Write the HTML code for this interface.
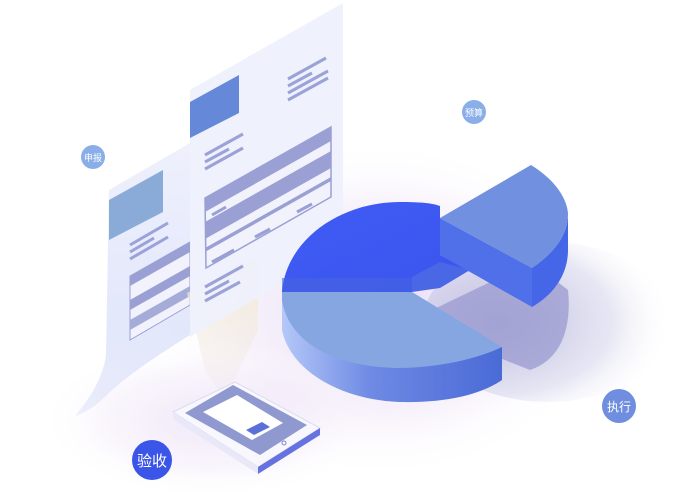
<!DOCTYPE html>
<html><head><meta charset="utf-8"><style>
html,body{margin:0;padding:0;background:#fff;}
svg{display:block}
text{font-family:"Liberation Sans","Noto Sans CJK SC",sans-serif;}
</style></head><body>
<svg width="684" height="492" viewBox="0 0 684 492" xmlns="http://www.w3.org/2000/svg">
<defs>
<radialGradient id="glow" cx="0.5" cy="0.5" r="0.5">
<stop offset="0" stop-color="#e6d8f4" stop-opacity="0.9"/>
<stop offset="0.6" stop-color="#f1e8f8" stop-opacity="0.6"/>
<stop offset="1" stop-color="#ffffff" stop-opacity="0"/>
</radialGradient>
<radialGradient id="shadow" cx="0.3" cy="0.5" r="0.7">
<stop offset="0" stop-color="#b0b0d8" stop-opacity="0.85"/>
<stop offset="0.65" stop-color="#d6d6ec" stop-opacity="0.6"/>
<stop offset="1" stop-color="#ffffff" stop-opacity="0"/>
</radialGradient>
<linearGradient id="paper" x1="0" y1="0" x2="0" y2="1">
<stop offset="0" stop-color="#eef0fc"/>
<stop offset="0.6" stop-color="#e4e8fb"/>
<stop offset="1" stop-color="#c9d2f5" stop-opacity="0.3"/>
</linearGradient>
<linearGradient id="pieside" x1="0" y1="0" x2="1" y2="0">
<stop offset="0" stop-color="#b4c8f8"/>
<stop offset="0.4" stop-color="#6f8ae4"/>
<stop offset="1" stop-color="#4a6ad6"/>
</linearGradient>
<linearGradient id="dark" x1="0" y1="0" x2="1" y2="1">
<stop offset="0" stop-color="#3f5cf5"/>
<stop offset="1" stop-color="#3a55ee"/>
</linearGradient>
<linearGradient id="beam" x1="0" y1="0" x2="0" y2="1">
<stop offset="0" stop-color="#f4eecc" stop-opacity="0.85"/>
<stop offset="1" stop-color="#f0e4e8" stop-opacity="0.2"/>
</linearGradient>
</defs>

<ellipse cx="380" cy="310" rx="230" ry="170" fill="url(#glow)"/>
<ellipse cx="210" cy="420" rx="170" ry="80" fill="url(#glow)" opacity="0.7"/>
<ellipse cx="548" cy="322" rx="125" ry="80" fill="url(#shadow)"/>
<path d="M432,310 L532,262 L568,290 C572,330 560,360 530,370 L470,346 Z" fill="#9a9ad0" opacity="0.75"/>

<path d="M109,190 L190,143 L190,335 C150,360 125,378 110,392 C98,404 88,412 75,416 C90,398 103,378 106,355 Z" fill="url(#paper)"/>
<polygon points="109,200 163,170 163,212 109,240" fill="#8aaad8"/>
<g stroke="#9aa2d8" stroke-width="3">
<line x1="130" y1="245" x2="168" y2="223"/>
<line x1="130" y1="252" x2="154" y2="238"/>
<line x1="130" y1="259" x2="168" y2="237"/>
</g>
<polygon points="130,276 190,242 190,305 130,340" fill="#f2f2fc" stroke="#9aa0d4" stroke-width="1"/>
<polygon points="130,276 190,242 190,252 130,286" fill="#9aa0d4"/>
<polygon points="130,300 190,266 190,276 130,310" fill="#9aa0d4"/>
<polygon points="130,320 190,286 190,296 130,330" fill="#a6acd8"/>

<polygon points="187,293 258,257 258,330 225,400 205,370" fill="url(#beam)"/>

<polygon points="190,90 343,3 343,248 190,337" fill="#eef0fc" opacity="0.95"/>
<polygon points="190,102 239,75 239,113 190,138" fill="#6688d8"/>
<g stroke="#9aa2d8" stroke-width="3">
<line x1="288" y1="79" x2="326" y2="58"/>
<line x1="288" y1="86" x2="312" y2="73"/>
<line x1="288" y1="93" x2="328" y2="71"/>
<line x1="288" y1="100" x2="328" y2="78"/>
<line x1="205" y1="155" x2="243" y2="134"/>
<line x1="205" y1="162" x2="229" y2="149"/>
<line x1="205" y1="169" x2="243" y2="148"/>
<line x1="205" y1="287" x2="243" y2="266"/>
<line x1="205" y1="294" x2="229" y2="281"/>
<line x1="205" y1="301" x2="240" y2="282"/>
</g>
<polygon points="205,198 331,127 331,197 206,268" fill="#f2f2fc" stroke="#9aa0d4" stroke-width="1.5"/>
<polygon points="205,198 331,127 331,141 205,212" fill="#9aa0d4"/>
<polygon points="205,222 331,151 331,168 205,239" fill="#9aa0d4"/>
<polygon points="205,248 331,177 331,181 205,252" fill="#9aa0d4"/>
<g stroke="#9aa0d4" stroke-width="3">
<line x1="255" y1="180" x2="268" y2="173"/><line x1="297" y1="157" x2="320" y2="144"/>
<line x1="297" y1="172" x2="320" y2="159"/>
<line x1="212" y1="215" x2="226" y2="207"/><line x1="252" y1="200" x2="268" y2="191"/>
<line x1="212" y1="230" x2="230" y2="220"/>
<line x1="212" y1="262" x2="234" y2="250"/><line x1="255" y1="237" x2="270" y2="229"/>
<line x1="297" y1="212" x2="312" y2="204"/>
</g>

<path d="M282,292 L282,330 C290,370 340,400 400,402 C445,403 480,395 502,380 L502,347 Z" fill="url(#pieside)"/>
<path d="M282,292 C286,240 340,202 400,202 C420,202 432,203 440,206 L440,255 L470,270 L412,277 L412,292 Z" fill="url(#dark)"/>
<polygon points="412,277 440,262 470,270 440,288 412,292" fill="#4a68e6"/>
<polygon points="282,278 412,278 412,292 282,292" fill="#4664e0" opacity="0.6"/>
<path d="M282,292 L412,292 L502,347 C470,362 430,368 395,368 C330,366 288,340 282,300 Z" fill="#86a6e2"/>

<path d="M532,268 C555,252 568,235 568,213 L568,250 C568,275 553,295 532,307 Z" fill="#4566e6"/>
<polygon points="440,218 532,268 532,307 440,255" fill="#5070ea"/>
<path d="M440,218 L531,165 C552,178 566,195 568,213 C568,235 555,252 532,268 Z" fill="#7290e0"/>

<polygon points="173,412 235,382 320,428 258,467" fill="#f7f7fd" stroke="#dcdcf0"/>
<polygon points="173,412 258,467 258,474 173,419" fill="#e8e8f8"/>
<polygon points="258,467 320,428 320,435 258,474" fill="#6672e0"/>
<polygon points="185,413 233,385 307,425 260,455" fill="#9098d0"/>
<polygon points="203,412 237,395 283,423 252,440" fill="#ffffff"/>
<polygon points="246,430 262,422 270,427 254,435" fill="#5a70d8"/>
<circle cx="284" cy="443" r="2" fill="none" stroke="#8088c8"/>

<circle cx="93" cy="157" r="12" fill="#8aaee8"/>
<text x="93" y="161" font-size="9" fill="#fff" text-anchor="middle">申报</text>
<circle cx="474" cy="112" r="12" fill="#8aaee8"/>
<text x="474" y="116" font-size="9" fill="#fff" text-anchor="middle">预算</text>
<circle cx="619" cy="406" r="17" fill="#6f8ee0"/>
<text x="619" y="411" font-size="12" fill="#fff" text-anchor="middle">执行</text>
<circle cx="152" cy="460" r="20" fill="#3a55e8"/>
<text x="152" y="466" font-size="15" fill="#fff" text-anchor="middle">验收</text>
</svg>
</body></html>
